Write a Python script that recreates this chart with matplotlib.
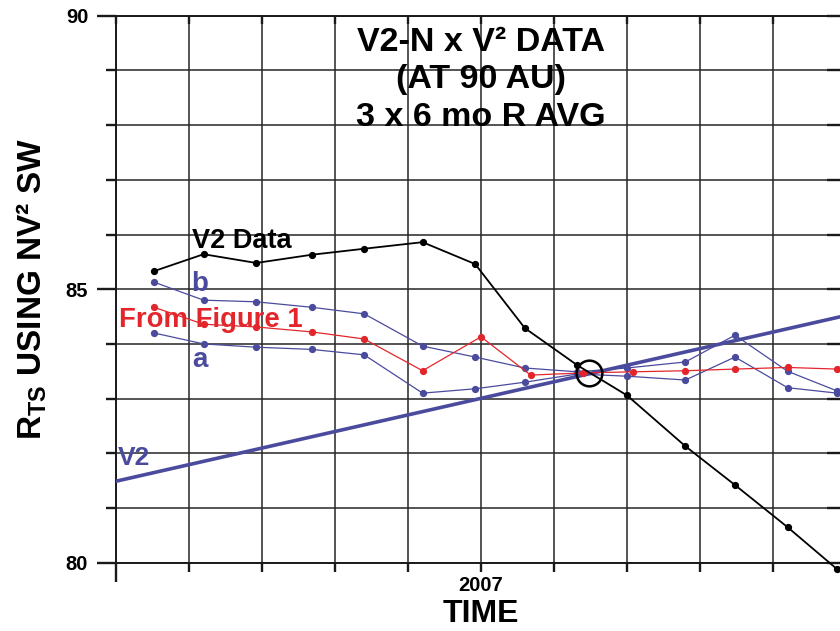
import numpy as np
import matplotlib
matplotlib.use("Agg")
import matplotlib.pyplot as plt

plt.rcParams['font.family'] = ['Liberation Sans', 'DejaVu Sans']
plt.rcParams['font.weight'] = 'bold'
plt.rcParams['mathtext.fontset'] = 'custom'
plt.rcParams['mathtext.rm'] = 'Liberation Sans:bold'
plt.rcParams['mathtext.it'] = 'Liberation Sans:bold'
plt.rcParams['mathtext.bf'] = 'Liberation Sans:bold'

# time in years, radius values
t_main = [2005.88, 2006.05, 2006.23, 2006.42, 2006.60, 2006.80, 2006.98,
          2007.15, 2007.33, 2007.50, 2007.70, 2007.87, 2008.05, 2008.22]
t_fig1 = [2005.88, 2006.05, 2006.23, 2006.42, 2006.60, 2006.80, 2007.00,
          2007.17, 2007.35, 2007.52, 2007.70, 2007.87, 2008.05, 2008.22]

v2_data = [85.33, 85.64, 85.48, 85.63, 85.74, 85.86, 85.46,
           84.29, 83.61, 83.06, 82.13, 81.42, 80.65, 79.88]
series_b = [85.13, 84.80, 84.77, 84.67, 84.55, 83.96, 83.76,
            83.56, 83.49, 83.56, 83.67, 84.16, 83.50, 83.14]
series_a = [84.20, 84.00, 83.94, 83.90, 83.80, 83.10, 83.18,
            83.30, 83.45, 83.41, 83.34, 83.76, 83.20, 83.10]
from_fig1 = [84.67, 84.36, 84.31, 84.22, 84.09, 83.51, 84.13,
             83.43, 83.47, 83.49, 83.51, 83.54, 83.57, 83.54]

# V2 straight line
t_v2 = [2005.75, 2008.25]
r_v2 = [81.49, 84.52]

# crossing point marked with a circle
cross_t = [2007.37]
cross_r = [83.47]

blue = '#4b4b9e'
red = '#e3262b'

fig = plt.figure(figsize=(8.4, 6.31), dpi=100)
ax = fig.add_axes([0.1381, 0.1082, 0.869, 0.8669])

ax.set_xlim(2005.75, 2008.25)
ax.set_ylim(80, 90)

xt = np.arange(2005.75, 2008.26, 0.25)
ax.set_xticks(xt)
ax.set_xticklabels(['2007' if abs(v - 2007) < 1e-6 else '' for v in xt])
ax.set_yticks(np.arange(80, 91, 1))
ax.set_yticklabels([str(v) if v % 5 == 0 else '' for v in range(80, 91)])

ax.grid(True, color='#262626', linewidth=1.1)
ax.set_axisbelow(True)
for s in ax.spines.values():
    s.set_color('#1a1a1a')
    s.set_linewidth(1.4)

ax.tick_params(axis='both', which='major', labelsize=14.5, width=1.7, color='#1a1a1a',
               top=True, right=True)
ax.tick_params(axis='x', direction='out', length=6.5, pad=3)
ax.tick_params(axis='y', direction='out', length=7, pad=13)
# inward ticks on top and right
for tk in ax.xaxis.get_major_ticks():
    tk.tick2line.set_marker(matplotlib.lines.TICKDOWN)
    tk.tick2line.set_markersize(6)
for tk in ax.yaxis.get_major_ticks():
    tk.tick2line.set_marker(matplotlib.lines.TICKLEFT)
    tk.tick2line.set_markersize(14)
# longer ticks for labelled y values and the first time tick
for v, tk in zip(range(80, 91), ax.yaxis.get_major_ticks()):
    if v % 5 == 0:
        tk.tick1line.set_markersize(14)
ax.xaxis.get_major_ticks()[0].tick1line.set_markersize(14)

ax.plot(t_v2, r_v2, color=blue, linewidth=2.6, zorder=3)
ax.plot(t_main, series_b, color=blue, linewidth=0.9, marker='o', markersize=4.2, zorder=4)
ax.plot(t_main, series_a, color=blue, linewidth=0.9, marker='o', markersize=4.2, zorder=4)
ax.plot(t_fig1, from_fig1, color=red, linewidth=0.9, marker='o', markersize=4.2, zorder=5)
ax.plot(t_main, v2_data, color='black', linewidth=1.3, marker='o', markersize=4.2,
        zorder=6, clip_on=False)
ax.plot(cross_t, cross_r, linestyle='none', marker='o', markersize=18.5,
        markerfacecolor='none', markeredgecolor='black', markeredgewidth=1.8, zorder=7)

ax.text(2007.0, 89.79, 'V2-N x V² DATA\n(AT 90 AU)\n3 x 6 mo R AVG',
        ha='center', va='top', fontsize=24.5, fontweight='bold', linespacing=1.26, zorder=8)

ax.text(2006.18, 85.75, 'V2 Data', ha='center', va='baseline', fontsize=19.5,
        fontweight='bold', color='black', zorder=8)
ax.text(2006.007, 84.97, 'b', ha='left', va='baseline', fontsize=20,
        fontweight='bold', color=blue, zorder=8)
ax.text(2005.76, 84.31, 'From Figure 1', ha='left', va='baseline', fontsize=19.8,
        fontweight='bold', color=red, zorder=8)
ax.text(2006.01, 83.58, 'a', ha='left', va='baseline', fontsize=20,
        fontweight='bold', color=blue, zorder=8)
ax.text(2005.757, 81.79, 'V2', ha='left', va='baseline', fontsize=19,
        fontweight='bold', color=blue, zorder=8)

ax.set_xlabel('TIME', fontsize=23, fontweight='bold', labelpad=3)
ax.set_ylabel(r'R$_{\mathregular{TS}}$ USING NV² SW', fontsize=24, fontweight='bold', labelpad=12)

fig.savefig('out.png', dpi=100)
